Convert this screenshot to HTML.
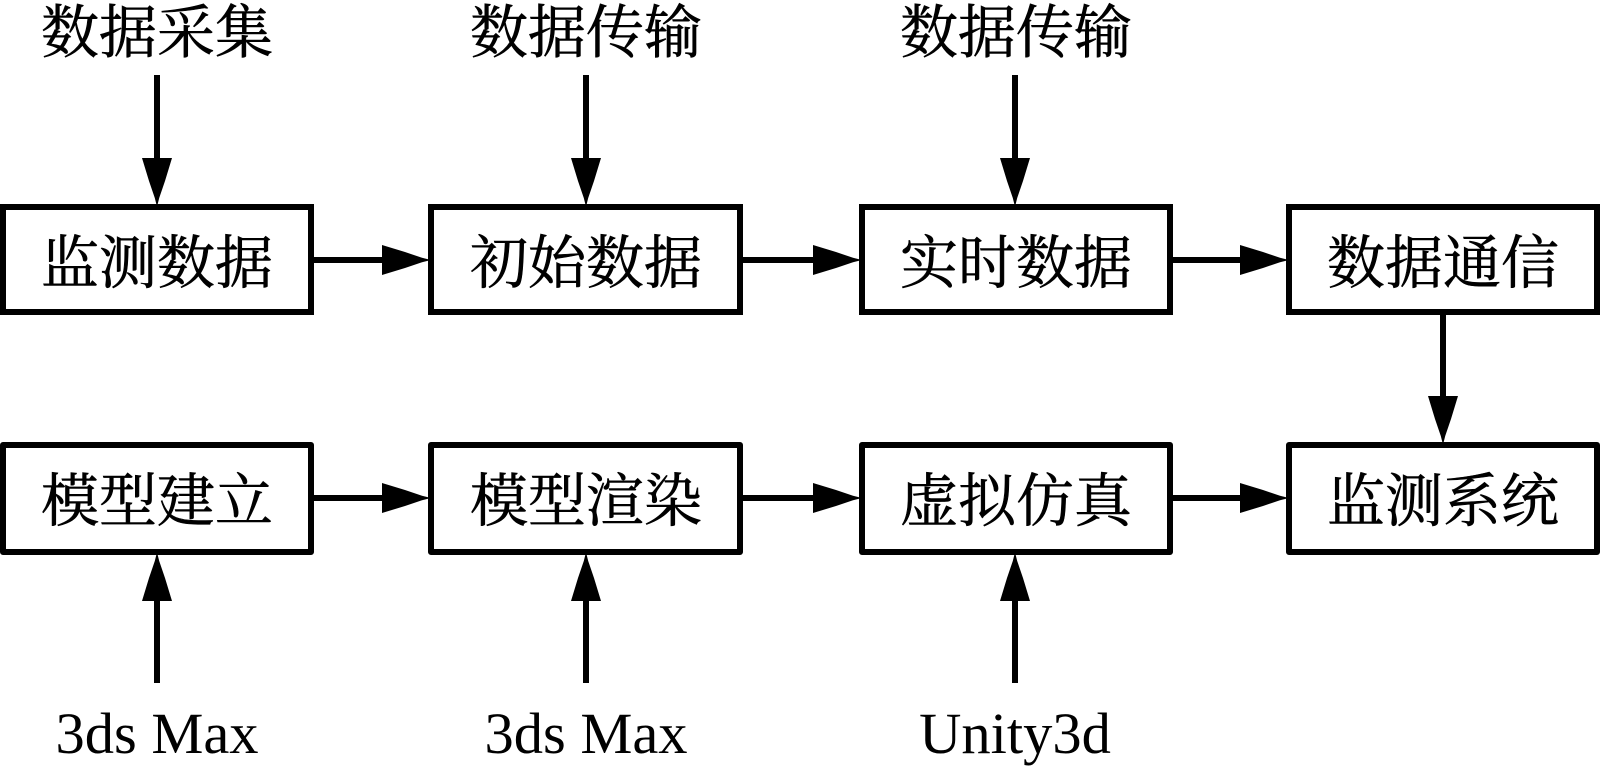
<!DOCTYPE html>
<html lang="zh"><head><meta charset="utf-8"><style>
html,body{margin:0;padding:0;background:#fff}
svg{display:block}
.c{font-family:"Liberation Serif","Noto Serif CJK SC",serif;font-size:58px;fill:#000;text-anchor:middle;stroke:#000;stroke-width:.6px}
.l{font-family:"Liberation Serif",serif;font-size:58.5px;fill:#000;text-anchor:middle}
rect{fill:#fff;stroke:#000;stroke-width:6}
.r2{stroke-linejoin:round}
line{stroke:#000;stroke-width:6}
polygon{fill:#000}
</style></head><body>
<svg width="1601" height="771" viewBox="0 0 1601 771" xmlns="http://www.w3.org/2000/svg">
<defs><polygon id="h" points="-46,-15 -23,-8 -6,-2.2 0,-0.7 0,0.7 -6,2.2 -23,8 -46,15"/></defs>
<rect x="3" y="207" width="308" height="105"/>
<rect x="431" y="207" width="309" height="105"/>
<rect x="862" y="207" width="308" height="105"/>
<rect x="1289" y="207" width="308" height="105"/>
<rect class="r2" x="3" y="445" width="308" height="107"/>
<rect class="r2" x="431" y="445" width="309" height="107"/>
<rect class="r2" x="862" y="445" width="308" height="107"/>
<rect class="r2" x="1289" y="445" width="308" height="107"/>

<line x1="157" y1="75" x2="157" y2="160"/><use href="#h" transform="translate(157 204) rotate(90)"/>
<line x1="586" y1="75" x2="586" y2="160"/><use href="#h" transform="translate(586 204) rotate(90)"/>
<line x1="1015" y1="75" x2="1015" y2="160"/><use href="#h" transform="translate(1015 204) rotate(90)"/>

<line x1="314" y1="260" x2="385" y2="260"/><use href="#h" transform="translate(428 260)"/>
<line x1="743" y1="260" x2="815" y2="260"/><use href="#h" transform="translate(859 260)"/>
<line x1="1173" y1="260" x2="1243" y2="260"/><use href="#h" transform="translate(1286 260)"/>

<line x1="1443" y1="315" x2="1443" y2="400"/><use href="#h" transform="translate(1443 442) rotate(90)"/>

<line x1="314" y1="498" x2="385" y2="498"/><use href="#h" transform="translate(428 498)"/>
<line x1="743" y1="498" x2="815" y2="498"/><use href="#h" transform="translate(859 498)"/>
<line x1="1173" y1="498" x2="1243" y2="498"/><use href="#h" transform="translate(1286 498)"/>

<line x1="157" y1="683" x2="157" y2="597"/><use href="#h" transform="translate(157 555) rotate(-90)"/>
<line x1="586" y1="683" x2="586" y2="597"/><use href="#h" transform="translate(586 555) rotate(-90)"/>
<line x1="1015" y1="683" x2="1015" y2="597"/><use href="#h" transform="translate(1015 555) rotate(-90)"/>

<text class="c" x="157" y="52.5">数据采集</text>
<text class="c" x="586" y="52.5">数据传输</text>
<text class="c" x="1016" y="52.5">数据传输</text>

<text class="c" x="157" y="283">监测数据</text>
<text class="c" x="586" y="283">初始数据</text>
<text class="c" x="1016" y="283">实时数据</text>
<text class="c" x="1443" y="283">数据通信</text>

<text class="c" x="157" y="521">模型建立</text>
<text class="c" x="586" y="521">模型渲染</text>
<text class="c" x="1016" y="521">虚拟仿真</text>
<text class="c" x="1443" y="521">监测系统</text>

<text class="l" x="157" y="753">3ds Max</text>
<text class="l" x="586" y="753">3ds Max</text>
<text class="l" x="1015" y="753">Unity3d</text>
</svg>
</body></html>
